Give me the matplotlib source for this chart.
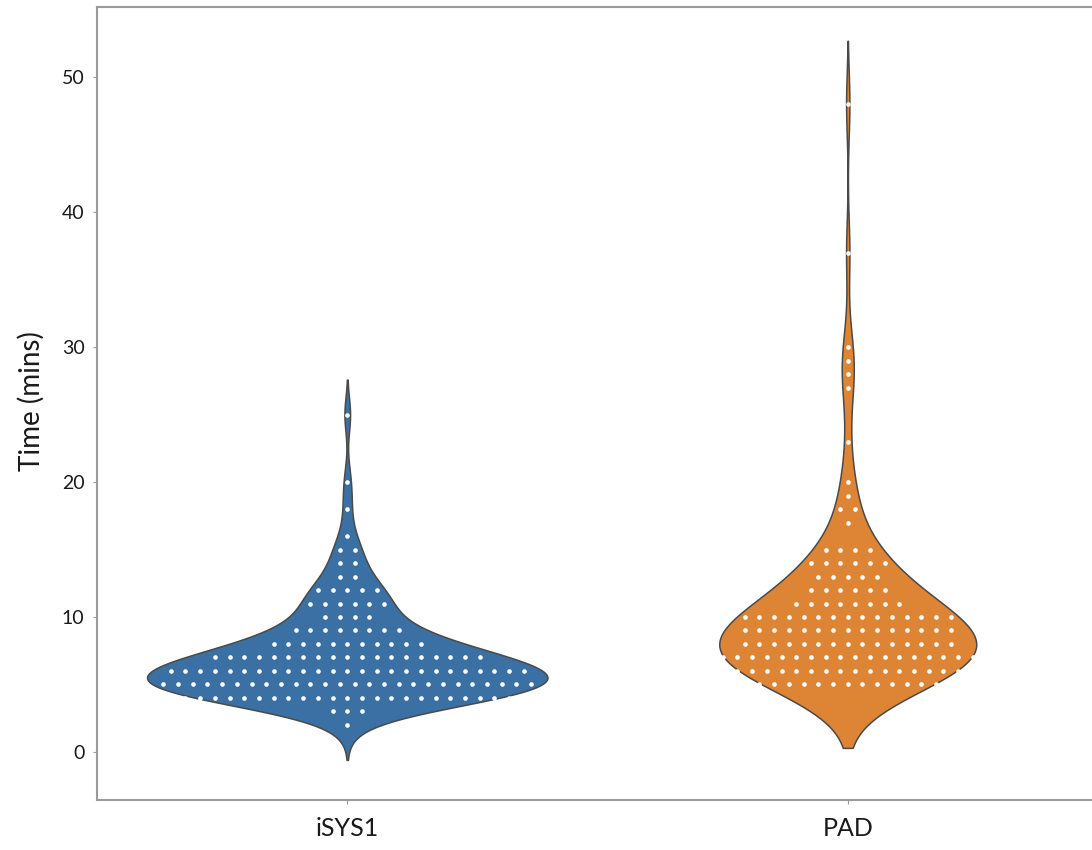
import numpy as np
import matplotlib
matplotlib.use("Agg")
import matplotlib.pyplot as plt

# ---- data: time values (mins) and how many observations at each ----
groups = ["iSYS1", "PAD"]
isys1_values = [25, 20, 18, 16, 15, 14, 13, 12, 11, 10, 9, 8, 7, 6, 5, 4, 3, 2]
isys1_counts = [1, 1, 1, 1, 2, 2, 2, 5, 6, 4, 8, 11, 19, 25, 26, 23, 3, 1]
pad_values = [48, 37, 30, 29, 28, 27, 23, 20, 19, 18, 17, 15, 14, 13, 12, 11, 10, 9, 8, 7, 6, 5]
pad_counts = [1, 1, 1, 1, 1, 1, 1, 1, 1, 2, 1, 4, 6, 5, 6, 8, 15, 15, 15, 18, 16, 13]
yticks = [0, 10, 20, 30, 40, 50]
ylabel = "Time (mins)"

colors = ["#3a70a3", "#de8535"]

plt.rcParams['font.family'] = ['Lato', 'DejaVu Sans']

samples = [np.repeat(isys1_values, isys1_counts).astype(float),
           np.repeat(pad_values, pad_counts).astype(float)]


def kde(data, cut=2.0, n=600):
    bw = len(data) ** (-1 / 5) * np.std(data, ddof=1)
    grid = np.linspace(data.min() - cut * bw, data.max() + cut * bw, n)
    dens = np.exp(-0.5 * ((grid[:, None] - data[None, :]) / bw) ** 2).sum(1)
    dens /= len(data) * bw * np.sqrt(2 * np.pi)
    return grid, dens


kdes = [kde(d) for d in samples]
peak = max(d.max() for _, d in kdes)

fig = plt.figure(figsize=(10.92, 8.5), dpi=100)
W, H = 1092, 850
ax = fig.add_axes([97 / W, 1 - 800 / H, (1098 - 97) / W, (800 - 7) / H])

half_width = 0.4
for gi, (grid, dens) in enumerate(kdes):
    hw = dens / peak * half_width
    ax.fill_betweenx(grid, gi - hw, gi + hw, facecolor=colors[gi],
                     edgecolor="#4a4a4a", linewidth=1.1, zorder=2)

# white dots arranged in rows at each value
spacing = 0.0294
for gi, (vals, cnts) in enumerate([(isys1_values, isys1_counts), (pad_values, pad_counts)]):
    xs, ys = [], []
    for v, n in zip(vals, cnts):
        offs = (np.arange(n) - (n - 1) / 2) * spacing
        xs.extend(gi + offs)
        ys.extend([v] * n)
    ax.scatter(xs, ys, s=11, color="white", linewidths=0, zorder=5)

ax.set_xlim(-0.5, 1.5)
ax.set_ylim(-3.56, 55.2)
ax.set_yticks(yticks)
ax.set_xticks([0, 1])
ax.set_xticklabels(groups, fontsize=18, color="#1a1a1a")
ax.set_ylabel(ylabel, fontsize=20, color="#1a1a1a")
ax.yaxis.set_label_coords(-0.052, 0.503)
ax.tick_params(axis="y", labelsize=14, colors="#999999", labelcolor="#1a1a1a",
               length=3, width=0.8, pad=6)
ax.tick_params(axis="x", colors="#999999", labelcolor="#1a1a1a",
               length=3, width=0.8, pad=9)
for s in ["left", "bottom", "top", "right"]:
    ax.spines[s].set_color("#9a9a9a")
    ax.spines[s].set_linewidth(1.5)

fig.savefig("out.png", dpi=100, facecolor="white")
